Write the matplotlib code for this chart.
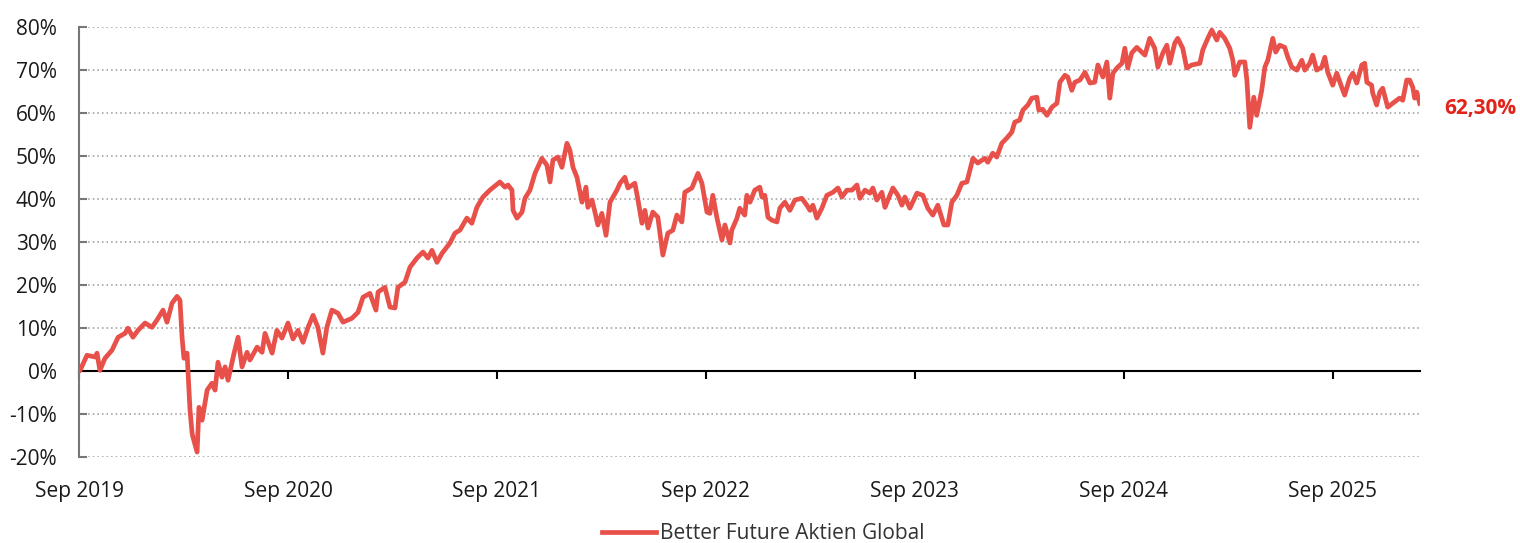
import matplotlib.pyplot as plt
import numpy as np

plt.rcParams['font.family'] = ['Open Sans', 'DejaVu Sans']

# time in decimal years, value in %
years = [
    2019.667, 2019.672, 2019.705, 2019.744, 2019.753, 2019.767, 2019.791, 2019.825, 2019.854, 2019.887,
    2019.901, 2019.925, 2019.949, 2019.983, 2020.016, 2020.040, 2020.069, 2020.088, 2020.112, 2020.136,
    2020.150, 2020.160, 2020.169, 2020.184, 2020.198, 2020.208, 2020.212, 2020.232, 2020.241, 2020.256,
    2020.280, 2020.303, 2020.318, 2020.332, 2020.351, 2020.366, 2020.380, 2020.409, 2020.428, 2020.447,
    2020.471, 2020.485, 2020.519, 2020.543, 2020.557, 2020.591, 2020.614, 2020.638, 2020.667, 2020.691,
    2020.715, 2020.739, 2020.763, 2020.787, 2020.810, 2020.834, 2020.853, 2020.877, 2020.906, 2020.930,
    2020.973, 2021.002, 2021.026, 2021.059, 2021.088, 2021.098, 2021.131, 2021.155, 2021.179, 2021.193,
    2021.227, 2021.251, 2021.284, 2021.313, 2021.337, 2021.356, 2021.380, 2021.404, 2021.442, 2021.466,
    2021.490, 2021.523, 2021.547, 2021.571, 2021.600, 2021.633, 2021.681, 2021.705, 2021.720, 2021.739,
    2021.744, 2021.763, 2021.787, 2021.801, 2021.825, 2021.849, 2021.882, 2021.906, 2021.921, 2021.935,
    2021.959, 2021.978, 2022.002, 2022.016, 2022.031, 2022.050, 2022.074, 2022.093, 2022.102, 2022.122,
    2022.136, 2022.150, 2022.169, 2022.189, 2022.208, 2022.241, 2022.256, 2022.279, 2022.294, 2022.327,
    2022.342, 2022.361, 2022.375, 2022.390, 2022.413, 2022.437, 2022.461, 2022.485, 2022.509, 2022.528,
    2022.552, 2022.566, 2022.600, 2022.629, 2022.648, 2022.672, 2022.686, 2022.700, 2022.720, 2022.744,
    2022.758, 2022.782, 2022.791, 2022.815, 2022.829, 2022.853, 2022.863, 2022.878, 2022.901, 2022.925,
    2022.935, 2022.949, 2022.964, 2022.983, 2023.007, 2023.021, 2023.045, 2023.069, 2023.093, 2023.126,
    2023.150, 2023.165, 2023.179, 2023.198, 2023.222, 2023.246, 2023.275, 2023.299, 2023.318, 2023.342,
    2023.366, 2023.390, 2023.404, 2023.428, 2023.452, 2023.466, 2023.485, 2023.509, 2023.524, 2023.538,
    2023.562, 2023.586, 2023.605, 2023.619, 2023.643, 2023.677, 2023.705, 2023.729, 2023.753, 2023.777,
    2023.806, 2023.825, 2023.844, 2023.868, 2023.892, 2023.916, 2023.930, 2023.945, 2023.968, 2024.002,
    2024.016, 2024.040, 2024.059, 2024.083, 2024.107, 2024.131, 2024.145, 2024.169, 2024.184, 2024.208,
    2024.227, 2024.251, 2024.260, 2024.279, 2024.299, 2024.323, 2024.347, 2024.361, 2024.385, 2024.399,
    2024.418, 2024.433, 2024.457, 2024.481, 2024.505, 2024.528, 2024.543, 2024.567, 2024.586, 2024.600,
    2024.615, 2024.634, 2024.658, 2024.672, 2024.686, 2024.705, 2024.729, 2024.753, 2024.768, 2024.791,
    2024.815, 2024.830, 2024.854, 2024.873, 2024.887, 2024.911, 2024.925, 2024.949, 2024.968, 2024.992,
    2025.031, 2025.045, 2025.069, 2025.088, 2025.112, 2025.126, 2025.150, 2025.174, 2025.189, 2025.198,
    2025.222, 2025.246, 2025.256, 2025.270, 2025.289, 2025.303, 2025.327, 2025.342, 2025.356, 2025.380,
    2025.394, 2025.413, 2025.437, 2025.452, 2025.471, 2025.495, 2025.519, 2025.533, 2025.557, 2025.571,
    2025.590, 2025.614, 2025.629, 2025.643, 2025.667, 2025.686, 2025.710, 2025.724, 2025.748, 2025.763,
    2025.782, 2025.806, 2025.820, 2025.830, 2025.853, 2025.858, 2025.877, 2025.892, 2025.906, 2025.930,
    2025.954, 2025.987, 2026.002, 2026.021, 2026.035, 2026.050, 2026.059, 2026.069, 2026.083,
]
perf = [
    0.0, 0.2, 3.7, 3.3, 4.2, 0.2, 3.0, 4.9, 7.9, 8.8,
    10.0, 7.9, 9.5, 11.2, 10.2, 11.9, 14.2, 11.4, 15.8, 17.4,
    16.5, 7.9, 3.0, 4.2, -9.0, -14.4, -15.3, -18.8, -8.4, -11.4,
    -4.4, -2.8, -4.4, 2.1, -1.4, 1.0, -2.1, 4.2, 7.9, 1.0,
    4.4, 2.6, 5.6, 4.4, 8.8, 4.2, 9.5, 7.7, 11.2, 7.5,
    9.5, 6.7, 10.2, 13.0, 10.2, 4.2, 10.2, 14.2, 13.5, 11.4,
    12.3, 13.7, 17.2, 18.1, 14.2, 18.4, 19.5, 14.9, 14.7, 19.5,
    20.7, 24.2, 26.3, 27.7, 26.3, 28.1, 25.3, 27.4, 29.8, 32.1,
    32.8, 35.6, 34.4, 38.1, 40.5, 42.1, 44.0, 42.8, 43.3, 42.1,
    37.4, 35.6, 37.0, 40.2, 42.1, 46.0, 49.5, 47.9, 44.0, 49.1,
    49.8, 47.4, 53.0, 51.4, 47.4, 45.1, 39.3, 42.8, 38.1, 39.8,
    37.0, 34.0, 36.7, 31.6, 39.3, 42.1, 43.7, 45.1, 42.6, 43.7,
    39.8, 34.4, 37.4, 33.3, 37.0, 35.8, 27.0, 32.1, 32.8, 36.3,
    34.7, 41.6, 42.6, 46.0, 43.7, 37.0, 36.7, 40.9, 35.6, 30.5,
    34.0, 29.8, 32.8, 35.5, 37.9, 36.3, 40.9, 39.3, 42.1, 42.8,
    40.5, 40.9, 35.8, 35.1, 34.7, 37.9, 39.3, 37.4, 39.8, 40.2,
    38.6, 37.4, 38.6, 35.6, 37.9, 40.9, 41.6, 42.6, 40.5, 42.1,
    42.1, 43.3, 40.2, 42.1, 41.4, 42.6, 39.8, 41.6, 38.1, 39.8,
    42.6, 40.9, 38.6, 40.5, 37.9, 41.4, 40.9, 37.9, 36.3, 38.6,
    34.0, 34.0, 39.3, 40.9, 43.7, 44.0, 46.7, 49.5, 48.4, 49.5,
    48.6, 50.7, 49.8, 53.0, 54.2, 55.6, 57.9, 58.4, 60.7, 61.9,
    63.5, 63.7, 60.7, 60.9, 59.5, 61.4, 62.3, 67.2, 68.8, 68.4,
    65.3, 67.2, 67.7, 69.5, 67.0, 67.2, 71.2, 68.4, 71.9, 63.5,
    69.3, 70.5, 71.6, 75.1, 70.5, 74.0, 75.3, 74.2, 73.5, 77.4,
    75.1, 70.7, 74.0, 75.8, 71.6, 76.3, 77.4, 75.1, 70.5, 71.2,
    71.6, 74.7, 77.4, 79.3, 77.0, 78.8, 77.4, 75.1, 72.3, 68.8,
    71.9, 71.9, 67.7, 56.7, 63.7, 59.5, 65.3, 70.7, 72.3, 77.4,
    74.2, 75.8, 75.3, 73.0, 70.7, 70.0, 72.3, 70.0, 71.6, 73.5,
    70.0, 70.7, 73.0, 69.5, 66.5, 69.3, 66.0, 64.2, 68.1, 69.3,
    67.0, 71.2, 71.6, 67.2, 66.5, 64.7, 61.9, 64.9, 65.8, 61.4,
    62.3, 63.5, 63.0, 67.7, 67.7, 66.0, 63.5, 64.9, 62.3,
]
tick_years = [2019.667, 2020.667, 2021.667, 2022.667, 2023.667, 2024.667, 2025.667]
tick_labels = ['Sep 2019', 'Sep 2020', 'Sep 2021', 'Sep 2022', 'Sep 2023', 'Sep 2024', 'Sep 2025']
series_name = 'Better Future Aktien Global'

line_color = '#e8504a'
label_color = '#e2231a'
text_color = '#1a1a1a'

fig = plt.figure(figsize=(15.2, 5.43), dpi=100)
ax = fig.add_axes([0.052, 0.158, 0.882, 0.792])

ax.plot(years, perf, color=line_color, lw=3.4, solid_joinstyle='round',
        label=series_name, zorder=3)

ax.set_xlim(years[0], years[-1])
ax.set_ylim(-20, 80)
yt = np.arange(-20, 81, 10)
ax.set_yticks(yt)
ax.set_yticklabels([f'{v}%' for v in yt])
ax.yaxis.grid(True, linestyle=(0, (1, 2)), color='#999999', lw=1.1)
ax.set_axisbelow(True)

for s in ['top', 'right']:
    ax.spines[s].set_visible(False)
ax.spines['left'].set_color('#777777')
ax.spines['left'].set_linewidth(1.5)
ax.spines['bottom'].set_position(('data', 0))
ax.spines['bottom'].set_color('black')
ax.spines['bottom'].set_linewidth(1.5)
ax.spines['bottom'].set_zorder(2)

ax.tick_params(axis='y', direction='in', length=6, width=1.5, color='#777777',
               labelsize=15, labelcolor=text_color, pad=16)
ax.set_xticks(tick_years)
ax.tick_params(axis='x', direction='out', length=6, width=1.5, color='black',
               labelbottom=False)

sec = ax.secondary_xaxis(0.0)
sec.set_xticks(tick_years)
sec.set_xticklabels(tick_labels)
sec.spines['bottom'].set_visible(False)
sec.tick_params(length=0, labelsize=15, labelcolor=text_color, pad=17)

last = perf[-1]
ax.annotate(f'{last:.2f}%'.replace('.', ','), xy=(years[-1], last),
            xytext=(18, -4), textcoords='offset points', ha='left', va='center',
            color=label_color, fontsize=15, fontweight='bold', annotation_clip=False)

fig.legend(loc='center', bbox_to_anchor=(0.502, 0.017), frameon=False, fontsize=15,
           handlelength=2.6, handletextpad=0.2, labelcolor='#333333')

fig.savefig('out.png', dpi=100)
